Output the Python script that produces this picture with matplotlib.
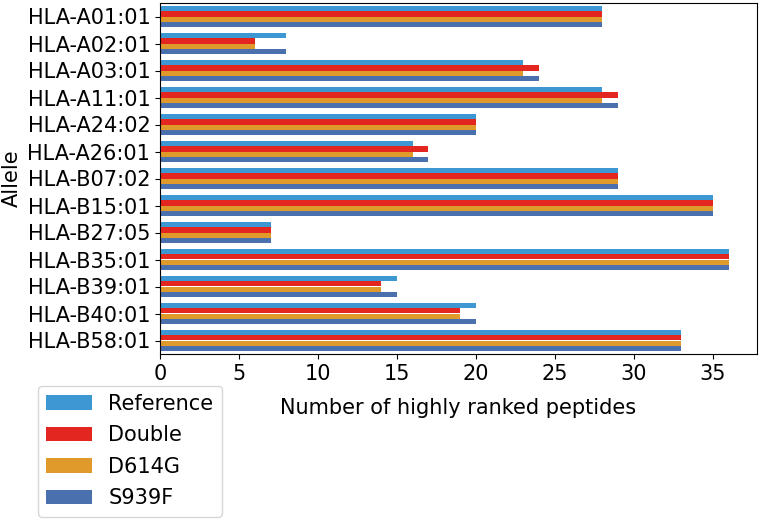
import matplotlib
matplotlib.use("Agg")
import matplotlib.pyplot as plt
import numpy as np

alleles = ["HLA-A01:01", "HLA-A02:01", "HLA-A03:01", "HLA-A11:01", "HLA-A24:02",
           "HLA-A26:01", "HLA-B07:02", "HLA-B15:01", "HLA-B27:05", "HLA-B35:01",
           "HLA-B39:01", "HLA-B40:01", "HLA-B58:01"]
reference = [28, 8, 23, 28, 20, 16, 29, 35, 7, 36, 15, 20, 33]
double = [28, 6, 24, 29, 20, 17, 29, 35, 7, 36, 14, 19, 33]
d614g = [28, 6, 23, 28, 20, 16, 29, 35, 7, 36, 14, 19, 33]
s939f = [28, 8, 24, 29, 20, 17, 29, 35, 7, 36, 15, 20, 33]

series = [("Reference", reference, "#3d97d3"),
          ("Double", double, "#e3261f"),
          ("D614G", d614g, "#e09a2c"),
          ("S939F", s939f, "#4a70ad")]

fig = plt.figure(figsize=(7.61, 5.2), dpi=100)
ax = fig.add_axes([160/761, 1-354/520, (757-160)/761, (354-3)/520])

n = len(alleles)
y = np.arange(n)
h = 0.2
for i, (name, vals, col) in enumerate(series):
    ax.barh(y - 0.3 + i*h, vals, height=h, color=col, label=name)

ax.set_yticks(y)
ax.set_yticklabels(alleles)
ax.set_ylim(n - 0.5, -0.5)
ax.set_xlim(0, 37.8)
ax.set_xticks([0, 5, 10, 15, 20, 25, 30, 35])
ax.tick_params(labelsize=15)
ax.set_xlabel("Number of highly ranked peptides", fontsize=15, labelpad=10)
ax.set_ylabel("Allele", fontsize=15)
ax.legend(loc="upper left", bbox_to_anchor=(-0.205, -0.09), borderaxespad=0,
          fontsize=15, handlelength=2.2, labelspacing=0.55)

fig.savefig("out.png", dpi=100)
